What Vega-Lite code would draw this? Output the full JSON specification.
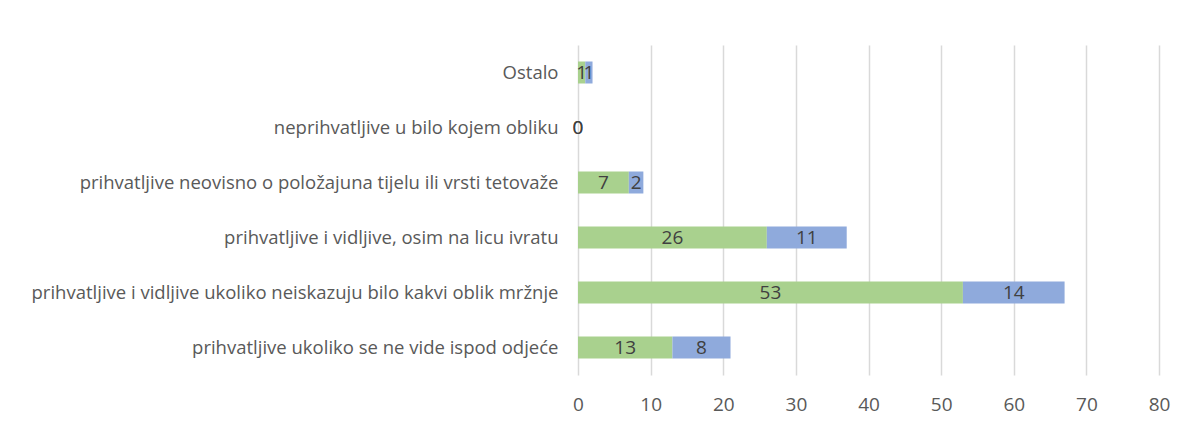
{
  "$schema": "https://vega.github.io/schema/vega-lite/v6.json",
  "width": 581,
  "height": 330,
  "autosize": {"type": "none"},
  "padding": {"left": 578, "top": 45, "right": 28, "bottom": 54},
  "background": "white",
  "config": {
    "view": {"stroke": null},
    "font": "Open Sans"
  },
  "data": {
    "values": [
      {"category": "Ostalo", "series": "A", "order": 1, "value": 1},
      {"category": "Ostalo", "series": "B", "order": 2, "value": 1},
      {"category": "neprihvatljive u bilo kojem obliku", "series": "A", "order": 1, "value": 0},
      {"category": "neprihvatljive u bilo kojem obliku", "series": "B", "order": 2, "value": 0},
      {"category": "prihvatljive neovisno o položajuna tijelu ili vrsti tetovaže", "series": "A", "order": 1, "value": 7},
      {"category": "prihvatljive neovisno o položajuna tijelu ili vrsti tetovaže", "series": "B", "order": 2, "value": 2},
      {"category": "prihvatljive i vidljive, osim na licu ivratu", "series": "A", "order": 1, "value": 26},
      {"category": "prihvatljive i vidljive, osim na licu ivratu", "series": "B", "order": 2, "value": 11},
      {"category": "prihvatljive i vidljive ukoliko neiskazuju bilo kakvi oblik mržnje", "series": "A", "order": 1, "value": 53},
      {"category": "prihvatljive i vidljive ukoliko neiskazuju bilo kakvi oblik mržnje", "series": "B", "order": 2, "value": 14},
      {"category": "prihvatljive ukoliko se ne vide ispod odjeće", "series": "A", "order": 1, "value": 13},
      {"category": "prihvatljive ukoliko se ne vide ispod odjeće", "series": "B", "order": 2, "value": 8}
    ]
  },
  "transform": [
    {"stack": "value", "groupby": ["category"], "sort": [{"field": "order", "order": "ascending"}], "as": ["x0", "x1"]},
    {"calculate": "(datum.x0 + datum.x1) / 2", "as": "xmid"}
  ],
  "encoding": {
    "y": {
      "field": "category",
      "type": "nominal",
      "sort": [
        "Ostalo",
        "neprihvatljive u bilo kojem obliku",
        "prihvatljive neovisno o položajuna tijelu ili vrsti tetovaže",
        "prihvatljive i vidljive, osim na licu ivratu",
        "prihvatljive i vidljive ukoliko neiskazuju bilo kakvi oblik mržnje",
        "prihvatljive ukoliko se ne vide ispod odjeće"
      ],
      "scale": {"paddingInner": 0.6, "paddingOuter": 0.3},
      "axis": {
        "title": null,
        "domain": false,
        "ticks": false,
        "labelPadding": 20,
        "labelFontSize": 18.5,
        "labelColor": "#595959",
        "labelLimit": 0
      }
    }
  },
  "layer": [
    {
      "mark": {"type": "bar"},
      "encoding": {
        "x": {
          "field": "x0",
          "type": "quantitative",
          "scale": {"domain": [0, 80], "nice": false},
          "axis": {
            "title": null,
            "values": [0, 10, 20, 30, 40, 50, 60, 70, 80],
            "domain": false,
            "ticks": false,
            "grid": true,
            "gridColor": "#d9d9d9",
            "gridWidth": 1.5,
            "labelFontSize": 19,
            "labelColor": "#595959",
            "labelPadding": 20,
            "labelFlush": false
          }
        },
        "x2": {"field": "x1"},
        "color": {
          "field": "series",
          "type": "nominal",
          "scale": {"domain": ["A", "B"], "range": ["#a9d18e", "#8faadc"]},
          "legend": null
        }
      }
    },
    {
      "mark": {"type": "text", "fontSize": 19, "color": "#404040", "baseline": "middle", "align": "center"},
      "encoding": {
        "x": {"field": "xmid", "type": "quantitative"},
        "text": {"field": "value", "type": "quantitative"}
      }
    }
  ]
}
